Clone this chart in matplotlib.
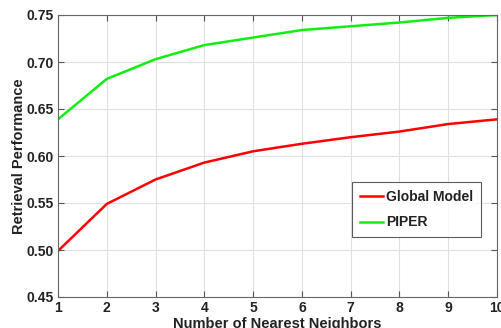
import matplotlib
matplotlib.use("Agg")
import matplotlib.pyplot as plt

neighbors = [1, 2, 3, 4, 5, 6, 7, 8, 9, 10]
global_model = [0.499, 0.549, 0.575, 0.593, 0.605, 0.613, 0.620, 0.626, 0.634, 0.639]
piper = [0.639, 0.682, 0.703, 0.718, 0.726, 0.734, 0.738, 0.742, 0.747, 0.750]
yticks = [0.45, 0.50, 0.55, 0.60, 0.65, 0.70, 0.75]

plt.rcParams['font.family'] = ['Liberation Sans', 'DejaVu Sans']
plt.rcParams['font.weight'] = 'bold'

fig = plt.figure(figsize=(5.02, 3.28), dpi=100)
ax = fig.add_axes([58/502, 1 - 297/328, (497-58)/502, (297-15)/328])

ax.plot(neighbors, global_model, color='#ff0000', lw=1.8, label='Global Model')
ax.plot(neighbors, piper, color='#11ee11', lw=1.8, label='PIPER')

ax.set_xlim(1, 10)
ax.set_ylim(0.45, 0.75)
ax.set_xticks(neighbors)
ax.set_yticks(yticks)
ax.set_yticklabels([f"{v:.2f}" for v in yticks])
ax.grid(True, color='#e0e0e0', lw=0.8)
ax.set_axisbelow(True)
ax.tick_params(direction='in', top=True, right=True, length=4, width=0.8,
               colors='#555555', labelcolor='#222222', labelsize=10, pad=3)
for lab in ax.get_xticklabels() + ax.get_yticklabels():
    lab.set_fontweight('bold')
for s in ax.spines.values():
    s.set_color('#666666')
    s.set_linewidth(0.8)

ax.set_xlabel('Number of Nearest Neighbors', fontsize=10.5, fontweight='bold', color='#222222', labelpad=1)
ax.set_ylabel('Retrieval Performance', fontsize=10.5, fontweight='bold', color='#222222', labelpad=0.5)

leg = ax.legend(loc='upper left', bbox_to_anchor=((352-58)/439, 1 - (182-15)/282),
                fontsize=10, frameon=True, fancybox=False, handlelength=1.7,
                handletextpad=0.2, borderpad=0.55, labelspacing=0.85, borderaxespad=0)
leg.get_frame().set_edgecolor('#333333')
leg.get_frame().set_linewidth(0.8)
for t in leg.get_texts():
    t.set_fontweight('bold')
    t.set_color('#222222')

fig.savefig('out.png', dpi=100)
